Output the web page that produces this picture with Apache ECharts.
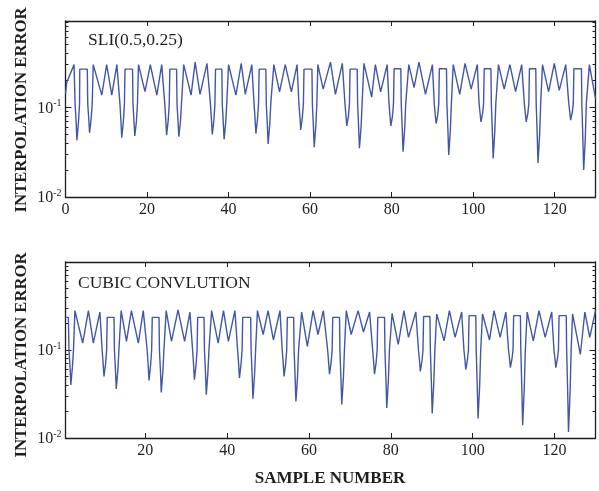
<!DOCTYPE html>
<html>
<head>
<meta charset="utf-8">
<script src="https://cdn.jsdelivr.net/npm/echarts@6/dist/echarts.min.js"></script>
<style>
  html, body { margin: 0; padding: 0; background: #fff; }
  #chart { width: 599px; height: 491px; }
</style>
</head>
<body>
<div id="chart"></div>
<script>
// SLI(0.5,0.25) interpolation error, polyline vertices (sample position / error)
const sliSample = [
  0, 0.3, 2.1,
  2.35, 2.6, 2.8, 3.0, 3.2, 3.45,   3.5, 5.35,
  5.45, 5.7, 5.9, 6.1, 6.3, 6.55,   6.8, 8.9, 10.1, 11.35, 12.6,
  13.35, 13.6, 13.8, 14.0, 14.2, 14.45,   14.6, 16.45,
  16.55, 16.8, 17.0, 17.2, 17.4, 17.65,   17.9, 19.5, 20.8, 22.4, 23.6,
  24.35, 24.6, 24.8, 25.0, 25.2, 25.45,   25.6, 27.25,
  27.35, 27.6, 27.8, 28.0, 28.2, 28.45,   29.0, 30.8, 31.8, 33.0, 34.7,
  35.55, 35.8, 36.0, 36.2, 36.4, 36.65,   36.8, 38.35,
  38.45, 38.7, 38.9, 39.1, 39.3, 39.55,   40.0, 41.8, 43.1, 44.1, 45.7,
  46.25, 46.5, 46.7, 46.9, 47.1, 47.35,   47.5, 49.15,
  49.25, 49.5, 49.7, 49.9, 50.1, 50.35,   51.1, 52.5, 53.9, 55.4, 56.8,
  57.25, 57.5, 57.7, 57.9, 58.1, 58.35,   58.5, 60.45,
  60.55, 60.8, 61.0, 61.2, 61.4, 61.65,   61.9, 63.2, 65.0, 66.2, 67.9,
  68.55, 68.8, 69.0, 69.2, 69.4, 69.65,   69.8, 71.55,
  71.65, 71.9, 72.1, 72.3, 72.5, 72.75,   73.2, 75.1, 76.0, 77.3, 78.9,
  79.35, 79.6, 79.8, 80.0, 80.2, 80.45,   80.6, 82.25,
  82.35, 82.6, 82.8, 83.0, 83.2, 83.45,   84.2, 85.5, 86.7, 88.3, 90.0,
  90.45, 90.7, 90.9, 91.1, 91.3, 91.55,   91.7, 93.45,
  93.55, 93.8, 94.0, 94.2, 94.4, 94.65,   95.1, 96.7, 98.0, 99.5, 101.0,
  101.45, 101.7, 101.9, 102.1, 102.3, 102.55,   102.7, 104.35,
  104.45, 104.7, 104.9, 105.1, 105.3, 105.55,   106.2, 107.6, 109.0, 110.4, 111.9,
  112.55, 112.8, 113.0, 113.2, 113.4, 113.65,   113.8, 115.35,
  115.45, 115.7, 115.9, 116.1, 116.3, 116.55,   117.0, 118.5, 119.9, 121.1, 122.7,
  123.45, 123.7, 123.9, 124.1, 124.3, 124.55,   124.7, 126.55,
  126.65, 126.9, 127.1, 127.3, 127.5, 127.75,   128.5, 130
];
const sliError = [
  0.14, 0.19, 0.30,
  0.11, 0.07, 0.043, 0.043, 0.07, 0.11,   0.267, 0.267,
  0.11, 0.075, 0.052, 0.052, 0.075, 0.11,   0.30, 0.137, 0.30, 0.137, 0.30,
  0.11, 0.07, 0.046, 0.046, 0.07, 0.11,   0.267, 0.267,
  0.11, 0.07, 0.048, 0.048, 0.07, 0.11,   0.30, 0.15, 0.30, 0.137, 0.30,
  0.11, 0.072, 0.049, 0.049, 0.072, 0.11,   0.267, 0.267,
  0.11, 0.07, 0.047, 0.047, 0.07, 0.11,   0.30, 0.137, 0.32, 0.14, 0.31,
  0.11, 0.072, 0.050, 0.050, 0.072, 0.11,   0.267, 0.267,
  0.11, 0.068, 0.044, 0.044, 0.068, 0.11,   0.30, 0.137, 0.31, 0.14, 0.30,
  0.11, 0.074, 0.051, 0.051, 0.074, 0.11,   0.267, 0.267,
  0.11, 0.065, 0.039, 0.039, 0.065, 0.11,   0.30, 0.149, 0.30, 0.149, 0.30,
  0.11, 0.078, 0.056, 0.056, 0.078, 0.11,   0.267, 0.267,
  0.11, 0.062, 0.036, 0.036, 0.062, 0.11,   0.30, 0.16, 0.32, 0.14, 0.31,
  0.11, 0.080, 0.062, 0.062, 0.080, 0.11,   0.267, 0.267,
  0.11, 0.060, 0.035, 0.035, 0.060, 0.11,   0.31, 0.13, 0.30, 0.149, 0.30,
  0.11, 0.080, 0.062, 0.062, 0.080, 0.11,   0.27, 0.27,
  0.11, 0.058, 0.032, 0.032, 0.058, 0.11,   0.30, 0.166, 0.32, 0.14, 0.30,
  0.11, 0.082, 0.066, 0.066, 0.082, 0.11,   0.27, 0.27,
  0.11, 0.056, 0.0295, 0.0295, 0.056, 0.11,   0.30, 0.14, 0.31, 0.16, 0.30,
  0.11, 0.085, 0.069, 0.069, 0.085, 0.11,   0.27, 0.27,
  0.11, 0.054, 0.027, 0.027, 0.054, 0.11,   0.30, 0.16, 0.30, 0.15, 0.30,
  0.11, 0.085, 0.069, 0.069, 0.085, 0.11,   0.27, 0.27,
  0.11, 0.050, 0.024, 0.024, 0.050, 0.11,   0.30, 0.15, 0.31, 0.155, 0.30,
  0.11, 0.088, 0.072, 0.072, 0.088, 0.11,   0.27, 0.27,
  0.11, 0.045, 0.020, 0.020, 0.045, 0.11,   0.30, 0.125
];

// Cubic convolution interpolation error, polyline vertices
const cubicSample = [
  0.5, 1.2,
  1.35, 1.6, 1.8, 2.0, 2.2, 2.45,   2.8, 4.7, 6.1, 7.3, 8.9,
  9.45, 9.7, 9.9, 10.1, 10.3, 10.55,   10.7, 12.35,
  12.45, 12.7, 12.9, 13.1, 13.3, 13.55,   14.1, 15.4, 16.6, 18.3, 19.5,
  20.45, 20.7, 20.9, 21.1, 21.3, 21.55,   21.7, 23.35,
  23.45, 23.7, 23.9, 24.1, 24.3, 24.55,   25.1, 26.4, 28.0, 29.6, 30.9,
  31.55, 31.8, 32.0, 32.2, 32.4, 32.65,   32.8, 34.35,
  34.45, 34.7, 34.9, 35.1, 35.3, 35.55,   36.2, 37.8, 39.1, 40.3, 41.9,
  42.55, 42.8, 43.0, 43.2, 43.4, 43.65,   43.8, 45.75,
  45.85, 46.1, 46.3, 46.5, 46.7, 46.95,   47.4, 48.8, 50.0, 51.3, 52.9,
  53.45, 53.7, 53.9, 54.1, 54.3, 54.55,   54.7, 56.25,
  56.35, 56.6, 56.8, 57.0, 57.2, 57.45,   58.2, 59.6, 61.0, 62.2, 63.5,
  64.55, 64.8, 65.0, 65.2, 65.4, 65.65,   65.8, 67.45,
  67.55, 67.8, 68.0, 68.2, 68.4, 68.65,   69.1, 70.3, 72.0, 73.3, 74.8,
  75.55, 75.8, 76.0, 76.2, 76.4, 76.65,   76.8, 78.45,
  78.55, 78.8, 79.0, 79.2, 79.4, 79.65,   80.3, 81.8, 83.2, 84.3, 86.1,
  86.75, 87.0, 87.2, 87.4, 87.6, 87.85,   88.0, 89.55,
  89.65, 89.9, 90.1, 90.3, 90.5, 90.75,   91.2, 93.0, 94.3, 95.7, 97.3,
  97.85, 98.1, 98.3, 98.5, 98.7, 98.95,   99.1, 100.75,
  100.85, 101.1, 101.3, 101.5, 101.7, 101.95,   102.4, 104.1, 105.2, 106.7, 108.1,
  108.75, 109.0, 109.2, 109.4, 109.6, 109.85,   110.0, 111.65,
  111.75, 112.0, 112.2, 112.4, 112.6, 112.85,   113.3, 114.8, 116.2, 117.7, 119.3,
  119.85, 120.1, 120.3, 120.5, 120.7, 120.95,   121.1, 122.85,
  122.95, 123.2, 123.4, 123.6, 123.8, 124.05,   124.4, 126.3, 127.4, 128.6, 130
];
const cubicError = [
  0.235, 0.235,
  0.10, 0.065, 0.040, 0.040, 0.065, 0.10,   0.28, 0.12, 0.28, 0.12, 0.27,
  0.10, 0.070, 0.050, 0.050, 0.070, 0.10,   0.235, 0.235,
  0.10, 0.060, 0.036, 0.036, 0.060, 0.10,   0.28, 0.125, 0.28, 0.12, 0.28,
  0.10, 0.068, 0.045, 0.045, 0.068, 0.10,   0.235, 0.235,
  0.10, 0.058, 0.033, 0.033, 0.058, 0.10,   0.28, 0.125, 0.285, 0.125, 0.27,
  0.10, 0.068, 0.046, 0.046, 0.068, 0.10,   0.235, 0.235,
  0.10, 0.056, 0.031, 0.031, 0.056, 0.10,   0.28, 0.12, 0.28, 0.125, 0.28,
  0.10, 0.070, 0.048, 0.048, 0.070, 0.10,   0.235, 0.235,
  0.10, 0.053, 0.028, 0.028, 0.053, 0.10,   0.28, 0.15, 0.28, 0.13, 0.28,
  0.10, 0.070, 0.050, 0.050, 0.070, 0.10,   0.235, 0.235,
  0.10, 0.050, 0.026, 0.026, 0.050, 0.10,   0.27, 0.11, 0.28, 0.15, 0.28,
  0.10, 0.072, 0.053, 0.053, 0.072, 0.10,   0.235, 0.235,
  0.10, 0.048, 0.024, 0.024, 0.048, 0.10,   0.28, 0.15, 0.28, 0.16, 0.27,
  0.10, 0.072, 0.053, 0.053, 0.072, 0.10,   0.235, 0.235,
  0.10, 0.046, 0.022, 0.022, 0.046, 0.10,   0.26, 0.116, 0.28, 0.139, 0.27,
  0.10, 0.075, 0.057, 0.057, 0.075, 0.10,   0.24, 0.24,
  0.10, 0.043, 0.019, 0.019, 0.043, 0.10,   0.257, 0.127, 0.28, 0.139, 0.27,
  0.10, 0.077, 0.060, 0.060, 0.077, 0.10,   0.246, 0.246,
  0.10, 0.040, 0.0167, 0.0167, 0.040, 0.10,   0.257, 0.13, 0.28, 0.139, 0.27,
  0.10, 0.080, 0.063, 0.063, 0.080, 0.10,   0.246, 0.246,
  0.10, 0.037, 0.014, 0.014, 0.037, 0.10,   0.27, 0.127, 0.28, 0.139, 0.27,
  0.10, 0.080, 0.063, 0.063, 0.080, 0.10,   0.246, 0.246,
  0.10, 0.034, 0.0117, 0.0117, 0.034, 0.10,   0.257, 0.089, 0.27, 0.139, 0.28
];

const sliXTicks = [0, 20, 40, 60, 80, 100, 120];
const cubicXTicks = [20, 40, 60, 80, 100, 120];
const decadeTicks = [0.01, 0.1];
const minorTicks = [0.02, 0.03, 0.04, 0.05, 0.06, 0.07, 0.08, 0.09,
                    0.2, 0.3, 0.4, 0.5, 0.6, 0.7, 0.8, 0.9];

const FONT = '"Liberation Serif", "Times New Roman", serif';
const INK = '#1e1e1e';
const LINE = '#4257a8';

const panels = [
  { top: 21, xMin: 0, yMax: 0.92, xTicks: sliXTicks },
  { top: 262, xMin: 0.5, yMax: 1, xTicks: cubicXTicks }
];

const grid = [], xAxis = [], yAxis = [];
panels.forEach((p, g) => {
  grid.push({ left: 65.5, top: p.top, width: 530, height: 176, show: false });
  ['bottom', 'top'].forEach(pos => {
    xAxis.push({
      gridIndex: g, type: 'value', position: pos, min: p.xMin, max: 130,
      axisLine: { show: true, lineStyle: { color: INK, width: 1.3 } },
      axisTick: { show: true, inside: true, length: 5, customValues: p.xTicks,
                  lineStyle: { color: INK, width: 1 } },
      axisLabel: { show: pos === 'bottom', customValues: p.xTicks, margin: 5,
                   fontFamily: FONT, fontSize: 16, color: INK },
      splitLine: { show: false }
    });
  });
  ['left', 'right'].forEach(pos => {
    yAxis.push({
      gridIndex: g, type: 'log', logBase: 10, position: pos, min: 0.01, max: p.yMax,
      axisLine: { show: true, lineStyle: { color: INK, width: 1.3 } },
      axisTick: { show: true, inside: true, length: 6, customValues: decadeTicks,
                  lineStyle: { color: INK, width: 1 } },
      axisLabel: {
        show: pos === 'left', customValues: decadeTicks, margin: 4,
        formatter: v => '{b|10}{s|' + Math.round(Math.log10(v)) + '}',
        rich: {
          b: { fontFamily: FONT, fontSize: 16, color: INK, verticalAlign: 'bottom' },
          s: { fontFamily: FONT, fontSize: 10, color: INK, verticalAlign: 'bottom',
               padding: [0, 0, 8, 0] }
        }
      },
      splitLine: { show: false }
    });
    yAxis.push({
      gridIndex: g, type: 'log', logBase: 10, position: pos, min: 0.01, max: p.yMax,
      axisLine: { show: false },
      axisTick: { show: true, inside: true, length: 3, customValues: minorTicks,
                  lineStyle: { color: INK, width: 1 } },
      axisLabel: { show: false },
      splitLine: { show: false }
    });
  });
});

const toPairs = (xs, ys) => xs.map((x, i) => [x, ys[i]]);
const traceStyle = { color: LINE, width: 1.4 };

const option = {
  animation: false,
  backgroundColor: '#fff',
  grid, xAxis, yAxis,
  series: [
    { type: 'line', xAxisIndex: 0, yAxisIndex: 0, data: toPairs(sliSample, sliError),
      showSymbol: false, lineStyle: traceStyle, z: 1 },
    { type: 'line', xAxisIndex: 2, yAxisIndex: 4, data: toPairs(cubicSample, cubicError),
      showSymbol: false, lineStyle: traceStyle, z: 1 }
  ],
  graphic: [
    { type: 'text', left: 88, top: 31,
      style: { text: 'SLI(0.5,0.25)', fontFamily: FONT, fontSize: 17.5, fill: INK } },
    { type: 'text', left: 78, top: 274,
      style: { text: 'CUBIC CONVLUTION', fontFamily: FONT, fontSize: 17.5, fill: INK } },
    { type: 'text', x: 22, y: 110, rotation: Math.PI / 2,
      style: { text: 'INTERPOLATION ERROR', fontFamily: FONT, fontSize: 16.7, fontWeight: 'bold',
               fill: INK, align: 'center', verticalAlign: 'middle' } },
    { type: 'text', x: 22, y: 355, rotation: Math.PI / 2,
      style: { text: 'INTERPOLATION ERROR', fontFamily: FONT, fontSize: 16.7, fontWeight: 'bold',
               fill: INK, align: 'center', verticalAlign: 'middle' } },
    { type: 'text', x: 330, y: 479,
      style: { text: 'SAMPLE NUMBER', fontFamily: FONT, fontSize: 17, fontWeight: 'bold',
               fill: INK, align: 'center', verticalAlign: 'middle' } }
  ]
};

echarts.init(document.getElementById('chart'), null, { renderer: 'canvas' }).setOption(option);
</script>
</body>
</html>
